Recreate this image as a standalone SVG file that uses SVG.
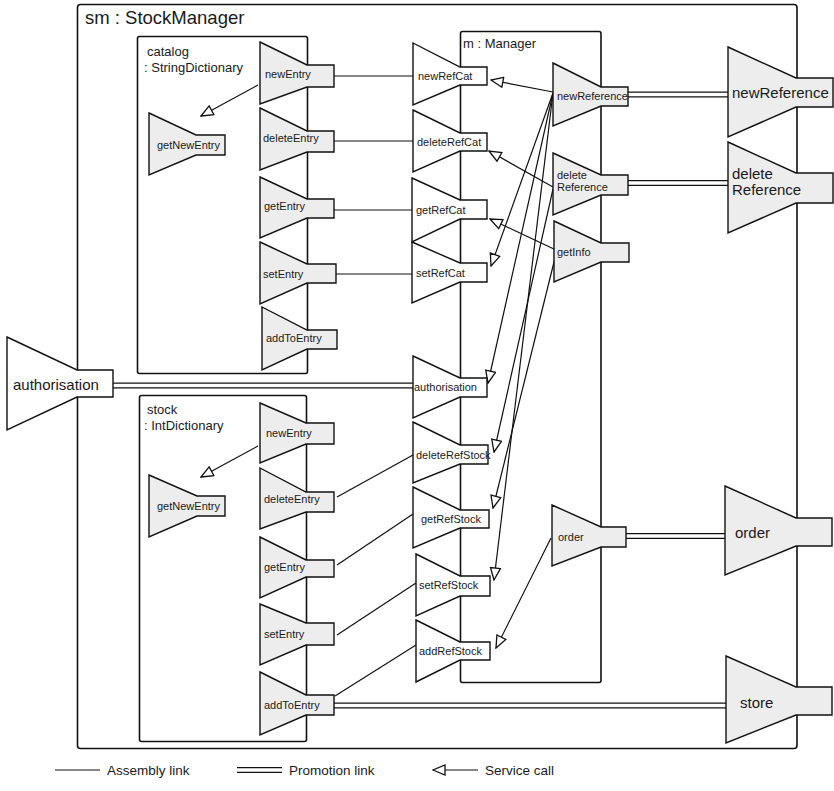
<svg xmlns="http://www.w3.org/2000/svg" width="834" height="791" viewBox="0 0 834 791">
<defs>
<style>
.box{fill:#fff;stroke:#111;stroke-width:1.6}
.pg{fill:#ededed;stroke:#111;stroke-width:1.4;stroke-linejoin:miter}
.pw{fill:#fff;stroke:#111;stroke-width:1.4;stroke-linejoin:miter}
.t{font-family:"Liberation Sans",Arial,sans-serif;fill:#1a1a1a}
.s{font-size:11px}
.m{font-size:13px}
.g{font-size:13.5px}
.l{font-size:15px}
.xl{font-size:18.5px}
.asm{stroke:#111;stroke-width:1.2;fill:none}
.po{stroke:#111;stroke-width:6.2;fill:none}
.pi{stroke:#fff;stroke-width:3.6;fill:none}
.call{stroke:#111;stroke-width:1.2;fill:none;marker-end:url(#tri)}
</style>
<marker id="tri" viewBox="0 0 14 12" refX="13" refY="6" markerWidth="14" markerHeight="12" markerUnits="userSpaceOnUse" orient="auto">
<path d="M13,6 L1,1 L1,11 Z" fill="#fff" stroke="#111" stroke-width="1.3"/>
</marker>
</defs>

<g id="sm">
<rect class="box" x="77.5" y="4.5" width="719.5" height="744" rx="3"/>
<text class="t xl" x="85" y="24">sm : StockManager</text>
</g>

<g id="catalog">
<rect class="box" x="137.5" y="36.5" width="170" height="337" rx="2"/>
<text class="t m" x="147" y="56">catalog</text>
<text class="t m" x="144" y="72">: StringDictionary</text>
</g>

<g id="stock">
<rect class="box" x="139.5" y="395.5" width="167" height="346" rx="2"/>
<text class="t m" x="147" y="414">stock</text>
<text class="t m" x="144" y="430">: IntDictionary</text>
</g>

<g id="manager">
<rect class="box" x="460.5" y="31.5" width="140.5" height="651" rx="2"/>
<text class="t m" x="463" y="48">m : Manager</text>
</g>

<g id="connectors">
<!-- assembly links -->
<line class="asm" x1="334" y1="76" x2="413" y2="76"/>
<line class="asm" x1="334" y1="141" x2="413" y2="141"/>
<line class="asm" x1="334" y1="210" x2="412" y2="210"/>
<line class="asm" x1="336" y1="274" x2="412" y2="274"/>
<line class="asm" x1="337" y1="497" x2="413" y2="455"/>
<line class="asm" x1="337" y1="565" x2="413" y2="514"/>
<line class="asm" x1="337" y1="635" x2="416" y2="583"/>
<line class="asm" x1="335" y1="696" x2="416" y2="645"/>
<!-- promotion links -->
<line class="po" x1="628" y1="94.5" x2="728" y2="94.5"/><line class="pi" x1="627" y1="94.5" x2="729" y2="94.5"/>
<line class="po" x1="628" y1="183" x2="728" y2="183"/><line class="pi" x1="627" y1="183" x2="729" y2="183"/>
<line class="po" x1="626" y1="536" x2="725" y2="536"/><line class="pi" x1="625" y1="536" x2="726" y2="536"/>
<line class="po" x1="113" y1="385.5" x2="413" y2="385.5"/><line class="pi" x1="112" y1="385.5" x2="414" y2="385.5"/>
<line class="po" x1="334" y1="705.5" x2="726" y2="705.5"/><line class="pi" x1="333" y1="705.5" x2="727" y2="705.5"/>
<!-- service calls -->
<line class="call" x1="258" y1="85" x2="201" y2="116"/>
<line class="call" x1="258" y1="446" x2="201" y2="477"/>
<line class="call" x1="553" y1="92" x2="491" y2="80"/>
<line class="call" x1="553" y1="93" x2="491" y2="266"/>
<line class="call" x1="553" y1="93" x2="488" y2="383"/>
<line class="call" x1="553" y1="93" x2="494" y2="580"/>
<line class="call" x1="553" y1="187" x2="489" y2="151"/>
<line class="call" x1="553" y1="189" x2="494" y2="452"/>
<line class="call" x1="556" y1="250" x2="490" y2="219"/>
<line class="call" x1="555" y1="258" x2="493" y2="508"/>
<line class="call" x1="551" y1="538" x2="496" y2="648"/>
</g>

<!-- catalog ports -->
<g id="cat-newEntry"><path class="pg" d="M260,42 L307,65 L334,65 L334,87 L307,87 L260,104 Z"/><text class="t s" x="265" y="78">newEntry</text></g>
<g id="cat-deleteEntry"><path class="pg" d="M260,108 L307,131 L334,131 L334,152 L307,152 L260,170 Z"/><text class="t s" x="263" y="142">deleteEntry</text></g>
<g id="cat-getEntry"><path class="pg" d="M260,177 L307,199 L334,199 L334,218 L307,218 L260,238 Z"/><text class="t s" x="264" y="210">getEntry</text></g>
<g id="cat-setEntry"><path class="pg" d="M260,242 L307,264 L336,264 L336,283 L307,283 L260,304 Z"/><text class="t s" x="263" y="278">setEntry</text></g>
<g id="cat-addToEntry"><path class="pg" d="M262,307 L307,330 L337,330 L337,349 L307,349 L262,370 Z"/><text class="t s" x="266" y="342">addToEntry</text></g>
<g id="cat-getNewEntry"><path class="pg" d="M149,113 L196,135 L225,135 L225,155 L196,155 L149,175 Z"/><text class="t s" x="157" y="149">getNewEntry</text></g>

<!-- stock ports -->
<g id="st-newEntry"><path class="pg" d="M260,403 L306,423 L334,423 L334,444 L306,444 L260,463 Z"/><text class="t s" x="266" y="437">newEntry</text></g>
<g id="st-deleteEntry"><path class="pg" d="M260,468 L306,492 L334,492 L334,512 L306,512 L260,529 Z"/><text class="t s" x="264" y="503">deleteEntry</text></g>
<g id="st-getEntry"><path class="pg" d="M260,537 L306,560 L334,560 L334,577 L306,577 L260,598 Z"/><text class="t s" x="264" y="571">getEntry</text></g>
<g id="st-setEntry"><path class="pg" d="M260,604 L306,623 L334,623 L334,645 L306,645 L260,665 Z"/><text class="t s" x="264" y="638">setEntry</text></g>
<g id="st-addToEntry"><path class="pg" d="M260,672 L306,695 L334,695 L334,715 L306,715 L260,735 Z"/><text class="t s" x="264" y="709">addToEntry</text></g>
<g id="st-getNewEntry"><path class="pg" d="M149,475 L197,496 L225,496 L225,516 L197,516 L149,537 Z"/><text class="t s" x="157" y="510">getNewEntry</text></g>

<!-- manager required ports -->
<g id="m-newRefCat"><path class="pw" d="M413,43 L460,67 L487,67 L487,85 L460,85 L413,105 Z"/><text class="t s" x="418" y="80">newRefCat</text></g>
<g id="m-deleteRefCat"><path class="pw" d="M413,110 L460,133 L487,133 L487,151 L460,151 L413,172 Z"/><text class="t s" x="417" y="146">deleteRefCat</text></g>
<g id="m-getRefCat"><path class="pw" d="M412,178 L460,200 L487,200 L487,219 L460,219 L412,242 Z"/><text class="t s" x="416" y="214">getRefCat</text></g>
<g id="m-setRefCat"><path class="pw" d="M412,242 L460,263 L487,263 L487,282 L460,282 L412,303 Z"/><text class="t s" x="416" y="277">setRefCat</text></g>
<g id="m-authorisation"><path class="pw" d="M413,356 L460,378 L487,378 L487,397 L460,397 L413,418 Z"/><text class="t s" x="414" y="391">authorisation</text></g>
<g id="m-deleteRefStock"><path class="pw" d="M413,422 L460,445 L488,445 L488,464 L460,464 L413,483 Z"/><text class="t s" x="416" y="459">deleteRefStock</text></g>
<g id="m-getRefStock"><path class="pw" d="M413,487 L460,510 L489,510 L489,528 L460,528 L413,548 Z"/><text class="t s" x="421" y="523">getRefStock</text></g>
<g id="m-setRefStock"><path class="pw" d="M416,554 L460,576 L490,576 L490,596 L460,596 L416,616 Z"/><text class="t s" x="419" y="589">setRefStock</text></g>
<g id="m-addRefStock"><path class="pw" d="M416,620 L460,642 L490,642 L490,660 L460,660 L416,682 Z"/><text class="t s" x="419" y="655">addRefStock</text></g>

<!-- manager provided ports -->
<g id="m-newReference"><path class="pg" d="M553,63 L601,87 L628,87 L628,106 L601,106 L553,126 Z"/><text class="t s" x="557" y="100">newReference</text></g>
<g id="m-deleteReference"><path class="pg" d="M553,153 L601,175 L628,175 L628,195 L601,195 L553,215 Z"/><text class="t s" x="557" y="179">delete</text><text class="t s" x="557" y="191">Reference</text></g>
<g id="m-getInfo"><path class="pg" d="M554,221 L601,243 L629,243 L629,262 L601,262 L554,282 Z"/><text class="t s" x="557" y="256">getInfo</text></g>
<g id="m-order"><path class="pg" d="M552,505 L601,527 L626,527 L626,547 L601,547 L552,566 Z"/><text class="t s" x="558" y="541">order</text></g>

<!-- outer ports -->
<g id="sm-newReference"><path class="pg" d="M728,47 L796,78 L833,78 L833,107 L796,107 L728,137 Z"/><text class="t l" x="732" y="98">newReference</text></g>
<g id="sm-deleteReference"><path class="pg" d="M728,142 L796,173 L833,173 L833,203 L796,203 L728,233 Z"/><text class="t l" x="732" y="179">delete</text><text class="t l" x="732" y="195">Reference</text></g>
<g id="sm-order"><path class="pg" d="M725,486 L796,518 L832,518 L832,546 L796,546 L725,575 Z"/><text class="t l" x="735" y="538">order</text></g>
<g id="sm-store"><path class="pg" d="M726,656 L796,687 L832,687 L832,715 L796,715 L726,743 Z"/><text class="t l" x="740" y="708">store</text></g>
<g id="sm-authorisation"><path class="pw" d="M7,337 L77,370 L113,370 L113,397 L77,397 L7,430 Z"/><text class="t l" x="13" y="390">authorisation</text></g>

<!-- legend -->
<g id="legend">
<line class="asm" x1="55" y1="770" x2="100" y2="770"/>
<text class="t g" x="107" y="775">Assembly link</text>
<line class="po" x1="237" y1="770" x2="282" y2="770"/><line class="pi" x1="236" y1="770" x2="283" y2="770"/>
<text class="t g" x="289" y="775">Promotion link</text>
<line class="call" x1="478" y1="770" x2="433" y2="770"/>
<text class="t g" x="485" y="775">Service call</text>
</g>
</svg>
